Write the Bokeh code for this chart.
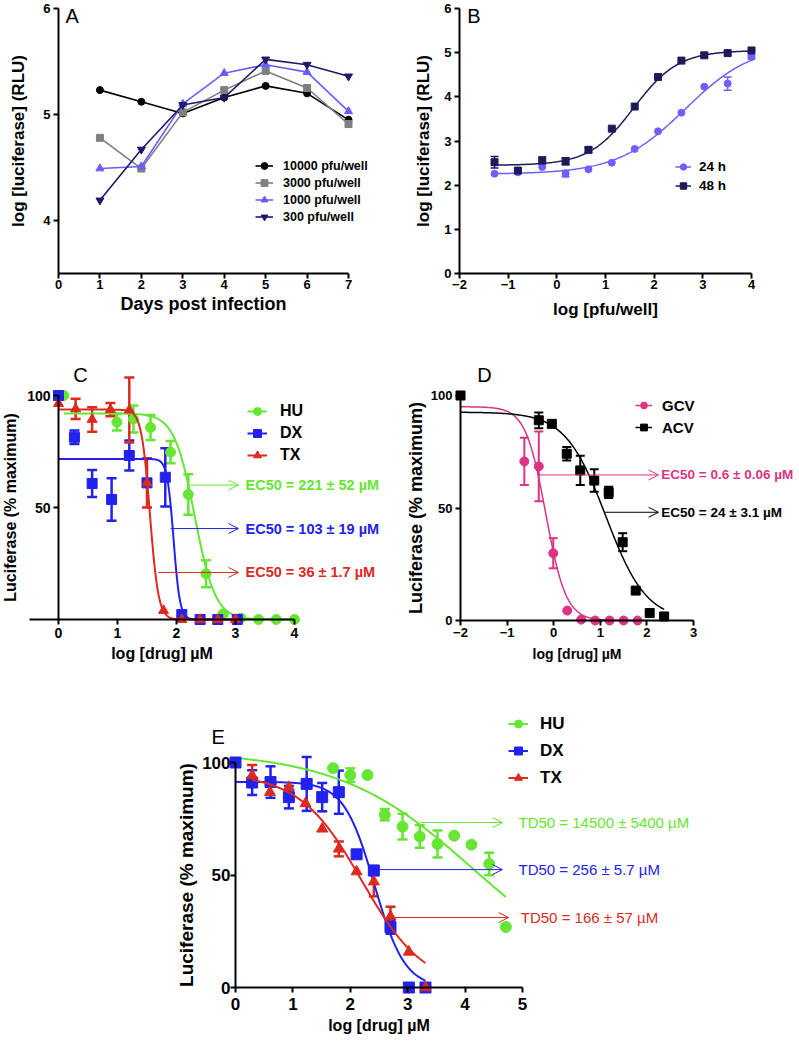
import numpy as np
from bokeh.plotting import figure
from bokeh.models import (LinearAxis, FixedTicker, Legend, LegendItem, Label, Arrow,
                          OpenHead, Whisker, TeeHead, ColumnDataSource, Range1d, Grid)
from bokeh.layouts import column, row
from bokeh.embed import file_html
from bokeh.resources import INLINE

FONT = "Liberation Sans"
MU = "\u00b5"

# ---------------- Panel A data ----------------
A_days = [1, 2, 3, 4, 5, 6, 7]
A_10000 = [5.23, 5.12, 5.01, 5.16, 5.27, 5.20, 4.95]
A_3000 = [4.78, 4.49, 5.02, 5.23, 5.41, 5.25, 4.91]
A_1000 = [4.49, 4.51, 5.10, 5.39, 5.47, 5.40, 5.03]
A_300 = [4.19, 4.67, 5.09, 5.16, 5.52, 5.47, 5.36]

# ---------------- Panel B data ----------------
B_logpfu = [-1.28, -0.80, -0.30, 0.18, 0.65, 1.13, 1.60, 2.08, 2.56, 3.03, 3.51, 4.00]
B_24h = [2.26, 2.29, 2.41, 2.26, 2.36, 2.51, 2.82, 3.22, 3.64, 4.23, 4.30, 4.90]
B_24h_err = [0, 0, 0, 0.07, 0, 0, 0, 0, 0, 0, 0.15, 0.04]
B_48h = [2.52, 2.33, 2.56, 2.54, 2.80, 3.28, 3.78, 4.45, 4.82, 4.94, 4.99, 5.05]
B_48h_err = [0.13, 0, 0.08, 0.08, 0.06, 0, 0, 0, 0, 0.05, 0, 0]
# fit parameters: bottom, top, logEC50, slope, domain start, domain end
B_fit_24h = (2.25, 5.20, 2.64, 0.62, -1.28, 4.0)
B_fit_48h = (2.45, 5.05, 1.58, 0.95, -1.28, 4.0)

# ---------------- Panel C data ----------------
C_HU_x = [0.09, 0.99, 1.27, 1.56, 1.90, 2.20, 2.50, 2.79, 3.09, 3.39, 3.69, 4.00]
C_HU_y = [100, 88.1, 89.5, 85.7, 74.7, 55.8, 20.4, 2.5, 0.6, 0, 0, 0]
C_HU_err = [0, 3.7, 6.0, 5.6, 5.0, 9.0, 6.0, 0, 0, 0, 0, 0]
C_DX_x = [0, 0.27, 0.57, 0.90, 1.20, 1.50, 1.81, 2.09, 2.40, 2.70, 3.03]
C_DX_y = [100, 81.4, 60.7, 53.6, 73.2, 61.0, 63.5, 2.2, 0, 0, 0]
C_DX_err = [0, 3.0, 6.0, 9.5, 6.7, 0, 13.0, 0, 0, 0, 0]
C_TX_x = [0, 0.29, 0.57, 0.88, 1.20, 1.50, 1.78, 2.09, 2.40, 2.70, 3.00]
C_TX_y = [96.4, 94.0, 89.3, 93.7, 93.5, 61.0, 4.0, 0, 0, 0, 0]
C_TX_err = [0, 4.5, 5.5, 3.0, 14.5, 11.0, 0, 0, 0, 0, 0]
C_fit_HU = (0, 92.0, 2.31, -2.5, 0.09, 4.0)
C_fit_DX = (0, 71.7, 1.95, -8.0, 0.0, 3.03)
C_fit_TX = (0, 93.7, 1.55, -6.0, 0.0, 3.0)

# ---------------- Panel D data ----------------
D_GCV_x = [-0.63, -0.32, -0.01, 0.29, 0.59, 0.89, 1.20, 1.50, 1.80]
D_GCV_y = [70.7, 68.5, 29.9, 4.4, 0.4, 0, 0, 0, 0]
D_GCV_err = [10.5, 15.5, 6.7, 0, 0, 0, 0, 0, 0]
D_ACV_x = [-2.0, -0.32, -0.04, 0.28, 0.57, 0.87, 1.18, 1.48, 1.76, 2.06, 2.37]
D_ACV_y = [100, 89.0, 87.4, 74.1, 66.7, 62.2, 57.0, 34.8, 13.3, 3.3, 1.8]
D_ACV_err = [0, 3.5, 0, 3.0, 6.5, 5.0, 2.5, 4.0, 0, 0, 0]
D_fit_GCV = (0, 95.0, -0.17, -2.0, -2.0, 1.8)
D_fit_ACV = (0, 92.6, 1.12, -1.0, -2.0, 2.37)

# ---------------- Panel E data ----------------
E_HU_x = [1.70, 2.00, 2.30, 2.60, 2.91, 3.21, 3.52, 3.81, 4.11, 4.42, 4.71]
E_HU_y = [97.5, 94.4, 94.4, 76.8, 71.5, 67.1, 63.8, 67.5, 63.5, 54.9, 26.9]
E_HU_err = [0, 3.0, 0, 2.5, 5.7, 5.0, 6.0, 0, 0, 5.0, 0]
E_DX_x = [0, 0.29, 0.61, 0.93, 1.24, 1.51, 1.80, 2.11, 2.41, 2.70, 3.02, 3.31]
E_DX_y = [100, 91.1, 91.3, 84.6, 90.5, 84.6, 86.8, 59.2, 52.0, 26.9, 0, 0]
E_DX_err = [0, 5.5, 7.0, 5.0, 12.0, 6.3, 9.6, 0, 2.0, 3.0, 0, 0]
E_TX_x = [0.29, 0.60, 0.93, 1.22, 1.51, 1.80, 2.11, 2.41, 2.70, 3.02, 3.31]
E_TX_y = [94.2, 86.8, 89.0, 81.8, 70.5, 61.6, 51.5, 47.0, 31.5, 15.8, 0]
E_TX_err = [4.7, 0, 0, 0, 0, 3.3, 0, 6.5, 4.4, 0, 0]
E_fit_HU = (0, 105.0, 4.15, -0.37, 0.08, 4.71)
E_fit_DX = (0, 91.4, 2.42, -1.64, 0.0, 3.31)
E_fit_TX = (0, 95.0, 2.20, -0.8, 0.29, 3.31)

GREEN = "#66E633"
BLUE = "#2222EE"
RED = "#DC2A1E"
PINK = "#DD3385"


def hill(fit, n=240):
    bottom, top, x0, slope, lo, hi = fit
    x = np.linspace(lo, hi, n)
    y = bottom + (top - bottom) / (1 + 10 ** ((x0 - x) * slope))
    return x, y


def lin(p0, v0, p1, v1, p):
    return v0 + (p - p0) * (v1 - v0) / (p1 - p0)


def make_fig(left, top, w, h, xa, ya):
    # xa = (px0, v0, px1, v1) page-x anchors; ya = (py0, v0, py1, v1) page-y anchors
    xr = Range1d(lin(*xa, left), lin(*xa, left + w))
    yr = Range1d(lin(*ya, top + h), lin(*ya, top))
    p = figure(width=w, height=h, x_range=xr, y_range=yr,
               output_backend="svg", toolbar_location=None, title=None,
               x_axis_location=None, y_axis_location=None,
               min_border=0, min_border_left=0, min_border_right=0,
               min_border_top=0, min_border_bottom=0)
    p.outline_line_color = None
    p.background_fill_color = "white"
    p.border_fill_color = "white"
    p.renderers = [r for r in p.renderers if not isinstance(r, Grid)]
    p.center = [c for c in p.center if not isinstance(c, Grid)]
    return p


def add_axis(p, side, ticks, label, bounds, fixed, tick_size="13px",
             label_size="17px", tick_standoff=3, label_standoff=5):
    ax = LinearAxis(ticker=FixedTicker(ticks=ticks), axis_label=label, bounds=bounds)
    ax.fixed_location = fixed
    ax.axis_line_width = 2
    ax.axis_line_color = "black"
    ax.major_tick_line_width = 2
    ax.major_tick_line_color = "black"
    ax.major_tick_out = 5
    ax.major_tick_in = 0
    ax.minor_tick_out = 0
    ax.minor_tick_in = 0
    ax.major_label_text_font = FONT
    ax.major_label_text_font_style = "bold"
    ax.major_label_text_font_size = tick_size
    ax.major_label_text_color = "black"
    ax.major_label_standoff = tick_standoff
    ax.axis_label_text_font = FONT
    ax.axis_label_text_font_style = "bold"
    ax.axis_label_text_font_size = label_size
    ax.axis_label_text_color = "black"
    ax.axis_label_standoff = label_standoff
    p.add_layout(ax, side)


def add_legend(p, items, loc, gw, gh, standoff, font_size, spacing=0):
    lg = Legend(items=items, location=loc, orientation="vertical",
                glyph_width=gw, glyph_height=gh, label_height=gh,
                label_standoff=standoff, spacing=spacing, padding=0, margin=0,
                border_line_color=None, background_fill_alpha=0,
                label_text_font=FONT, label_text_font_style="bold",
                label_text_font_size=font_size, label_text_color="black")
    p.add_layout(lg)


def panel_letter(p, x, y, t):
    p.add_layout(Label(x=x, y=y, text=t, text_font=FONT, text_font_size="20px",
                       text_baseline="middle", text_align="left", text_color="black"))


def errbars(p, xs, ys, es, color, lw, cap):
    idx = [i for i, e in enumerate(es) if e > 0]
    if not idx:
        return
    src = ColumnDataSource(dict(x=[xs[i] for i in idx],
                                lo=[ys[i] - es[i] for i in idx],
                                up=[ys[i] + es[i] for i in idx]))
    p.add_layout(Whisker(source=src, base="x", lower="lo", upper="up", dimension="height",
                         line_color=color, line_width=lw,
                         upper_head=TeeHead(size=cap, line_color=color, line_width=lw),
                         lower_head=TeeHead(size=cap, line_color=color, line_width=lw)))


def ec_note(p, x0, x1, y, xt, text, color, size, style):
    p.add_layout(Arrow(end=OpenHead(size=10, line_color=color, line_width=1),
                       x_start=x0, y_start=y, x_end=x1, y_end=y,
                       line_color=color, line_width=1))
    p.add_layout(Label(x=xt, y=y, text=text, text_color=color, text_font=FONT,
                       text_font_size=size, text_font_style=style,
                       text_baseline="middle", text_align="left"))


def series(p, xs, ys, es, fit, color, marker, size, lw, cap, curve_w):
    errbars(p, xs, ys, es, color, lw, cap)
    cx, cy = hill(fit)
    l = p.line(cx, cy, line_color=color, line_width=curve_w)
    s = p.scatter(xs, ys, marker=marker, size=size, fill_color=color, line_color=color)
    return [l, s]


# ================= Panel A =================
pA = make_fig(0, 0, 399, 320, (58, 0, 348, 7), (8, 6, 273, 3.5))
add_axis(pA, "below", [0, 1, 2, 3, 4, 5, 6, 7], "Days post infection", (0, 7), 3.5,
         tick_size="13px", label_size="18px", tick_standoff=1, label_standoff=2)
add_axis(pA, "left", [4, 5, 6], "log [luciferase] (RLU)", (3.5, 6), 0,
         tick_size="13px", label_size="17px", tick_standoff=3, label_standoff=12)
itemsA = []
for name, ys, c, m, sz in [("10000 pfu/well", A_10000, "black", "circle", 7),
                           ("3000 pfu/well", A_3000, "#7f7f7f", "square", 7),
                           ("1000 pfu/well", A_1000, "#6A5CFF", "triangle", 8),
                           ("300 pfu/well", A_300, "#1B1A6B", "inverted_triangle", 8)]:
    l = pA.line(A_days, ys, line_color=c, line_width=1.6)
    s = pA.scatter(A_days, ys, marker=m, size=sz, fill_color=c, line_color=c)
    itemsA.append(LegendItem(label=name, renderers=[l, s]))
add_legend(pA, itemsA, (255, 95), 18, 17, 10, "12.5px")
panel_letter(pA, 0.17, 5.93, "A")

# ================= Panel B =================
pB = make_fig(399, 0, 399, 320, (459, -2, 751, 4), (8, 6, 273, 0))
add_axis(pB, "below", [-2, -1, 0, 1, 2, 3, 4], "log [pfu/well]", (-2, 4), 0,
         tick_size="13px", label_size="17px", tick_standoff=1, label_standoff=8)
add_axis(pB, "left", [0, 1, 2, 3, 4, 5, 6], "log [luciferase] (RLU)", (0, 6), -2,
         tick_size="13px", label_size="17px", tick_standoff=3, label_standoff=8)
rB24 = series(pB, B_logpfu, B_24h, B_24h_err, B_fit_24h, "#6F5FFF", "circle", 7, 1.5, 8, 1.5)
rB48 = series(pB, B_logpfu, B_48h, B_48h_err, B_fit_48h, "#1C1B5A", "square", 7, 1.5, 8, 1.5)
add_legend(pB, [LegendItem(label="24 h", renderers=rB24),
                LegendItem(label="48 h", renderers=rB48)], (276, 125), 16, 19, 8, "13.5px")
panel_letter(pB, -1.84, 5.84, "B")

# ================= Panel C =================
pC = make_fig(0, 320, 399, 378, (58, 0, 294, 4), (395, 100, 619, 0))
add_axis(pC, "below", [0, 1, 2, 3, 4], "log [drug] " + MU + "M", (-0.5, 4), 0,
         tick_size="14px", label_size="16px", tick_standoff=3, label_standoff=4)
add_axis(pC, "left", [50, 100], "Luciferase (% maximum)", (0, 100), 0,
         tick_size="14px", label_size="16px", tick_standoff=3, label_standoff=5)
rC_HU = series(pC, C_HU_x, C_HU_y, C_HU_err, C_fit_HU, GREEN, "circle", 10, 2.5, 10, 2)
rC_DX = series(pC, C_DX_x, C_DX_y, C_DX_err, C_fit_DX, BLUE, "square", 10, 2.5, 10, 2)
rC_TX = series(pC, C_TX_x, C_TX_y, C_TX_err, C_fit_TX, RED, "triangle", 10, 2.5, 10, 2)
add_legend(pC, [LegendItem(label="HU", renderers=rC_HU),
                LegendItem(label="DX", renderers=rC_DX),
                LegendItem(label="TX", renderers=rC_TX)], (247, 232), 20, 22, 13, "16px")
ec_note(pC, 2.23, 3.05, 60.0, 3.17, "EC50 = 221 \u00b1 52 " + MU + "M", GREEN, "14.5px", "bold")
ec_note(pC, 1.90, 3.05, 40.6, 3.17, "EC50 = 103 \u00b1 19 " + MU + "M", BLUE, "14.5px", "bold")
ec_note(pC, 1.69, 3.05, 21.0, 3.17, "EC50 = 36 \u00b1 1.7 " + MU + "M", RED, "14.5px", "bold")
panel_letter(pC, 0.25, 109, "C")

# ================= Panel D =================
pD = make_fig(399, 320, 399, 378, (460, -2, 693, 3), (395, 100, 620, 0))
add_axis(pD, "below", [-2, -1, 0, 1, 2, 3], "log [drug] " + MU + "M", (-2, 3), 0,
         tick_size="13px", label_size="14px", tick_standoff=2, label_standoff=6)
add_axis(pD, "left", [0, 50, 100], "Luciferase (% maximum)", (0, 100), -2,
         tick_size="13px", label_size="18px", tick_standoff=3, label_standoff=2)
rD_G = series(pD, D_GCV_x, D_GCV_y, D_GCV_err, D_fit_GCV, PINK, "circle", 9, 2, 9, 1.5)
rD_A = series(pD, D_ACV_x, D_ACV_y, D_ACV_err, D_fit_ACV, "black", "square", 9, 2, 9, 1.5)
add_legend(pD, [LegendItem(label="GCV", renderers=rD_G),
                LegendItem(label="ACV", renderers=rD_A)], (236, 260), 17, 22, 10, "15px")
ec_note(pD, -0.34, 2.25, 64.7, 2.31, "EC50 = 0.6 \u00b1 0.06 " + MU + "M", PINK, "13.5px", "bold")
ec_note(pD, 1.09, 2.25, 48.1, 2.31, "EC50 = 24 \u00b1 3.1 " + MU + "M", "black", "13.5px", "bold")
panel_letter(pD, -1.64, 109, "D")

# ================= Panel E =================
pE = make_fig(0, 698, 798, 350, (235, 0, 522, 5), (762, 100, 987, 0))
add_axis(pE, "below", [0, 1, 2, 3, 4, 5], "log [drug] " + MU + "M", (0, 5), 0,
         tick_size="17px", label_size="16px", tick_standoff=5, label_standoff=4)
add_axis(pE, "left", [0, 50, 100], "Luciferase (% maximum)", (0, 100), 0,
         tick_size="17px", label_size="19px", tick_standoff=0, label_standoff=2)
rE_HU = series(pE, E_HU_x, E_HU_y, E_HU_err, E_fit_HU, GREEN, "circle", 11, 2.5, 10, 2)
rE_DX = series(pE, E_DX_x, E_DX_y, E_DX_err, E_fit_DX, BLUE, "square", 11, 2.5, 10, 2)
rE_TX = series(pE, E_TX_x, E_TX_y, E_TX_err, E_fit_TX, RED, "triangle", 11, 2.5, 10, 2)
add_legend(pE, [LegendItem(label="HU", renderers=rE_HU),
                LegendItem(label="DX", renderers=rE_DX),
                LegendItem(label="TX", renderers=rE_TX)], (508, 257), 20, 27, 12, "17px")
ec_note(pE, 3.22, 4.65, 73.3, 4.93, "TD50 = 14500 \u00b1 5400 " + MU + "M", GREEN, "15px", "normal")
ec_note(pE, 2.40, 4.65, 52.4, 4.93, "TD50 = 256 \u00b1 5.7 " + MU + "M", BLUE, "15px", "normal")
ec_note(pE, 2.70, 4.76, 31.1, 4.97, "TD50 = 166 \u00b1 57 " + MU + "M", RED, "15px", "normal")
panel_letter(pE, -0.42, 111.4, "E")

layout = column(row(pA, pB), row(pC, pD), pE)
open("out.html", "w").write(file_html(layout, INLINE))
